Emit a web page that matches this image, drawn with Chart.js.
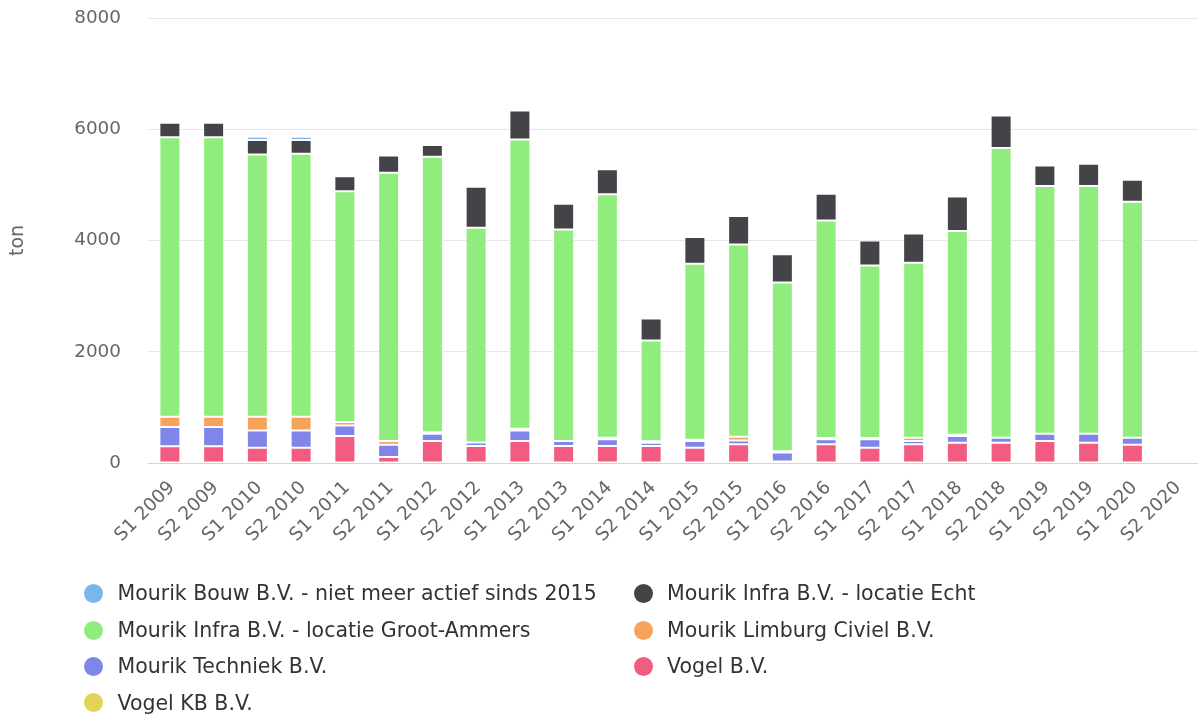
<!DOCTYPE html>
<html>
<head>
<meta charset="utf-8">
<script src="https://cdn.jsdelivr.net/npm/chart.js@4.4.1/dist/chart.umd.min.js"></script>
<style>
  html, body { margin: 0; padding: 0; background: #fff; }
  #wrap { position: relative; width: 1198px; height: 718px; overflow: hidden; }
  #c { position: absolute; left: 0; top: 0; }
  #legend { position: absolute; left: 0; top: 0; width: 1198px; height: 718px; pointer-events: none; }
  .li { position: absolute; font-family: "DejaVu Sans", sans-serif; font-size: 20.5px; color: #333333; white-space: nowrap; line-height: 24px; }
  .dot { position: absolute; width: 19px; height: 19px; border-radius: 50%; }
</style>
</head>
<body>
<div id="wrap">
  <canvas id="c" width="1198" height="718"></canvas>
  <div id="legend"></div>
</div>
<script>
const categories = ['S1 2009','S2 2009','S1 2010','S2 2010','S1 2011','S2 2011','S1 2012','S2 2012','S1 2013','S2 2013','S1 2014','S2 2014','S1 2015','S2 2015','S1 2016','S2 2016','S1 2017','S2 2017','S1 2018','S2 2018','S1 2019','S2 2019','S1 2020','S2 2020'];

const yTicks = [0, 2000, 4000, 6000, 8000];

const seriesNames = [
  'Mourik Bouw B.V. - niet meer actief sinds 2015',
  'Mourik Infra B.V. - locatie Echt',
  'Mourik Infra B.V. - locatie Groot-Ammers',
  'Mourik Limburg Civiel B.V.',
  'Mourik Techniek B.V.',
  'Vogel B.V.',
  'Vogel KB B.V.'
];

const mourikBouw   = [0, 0, 60, 60, 0, 0, 0, 0, 0, 0, 0, 0, 0, 0, 0, 0, 0, 0, 0, 0, 0, 0, 0, null];
const infraEcht    = [260, 260, 260, 245, 270, 310, 210, 735, 520, 460, 450, 395, 485, 510, 510, 480, 450, 525, 620, 580, 370, 400, 395, null];
const infraGroot   = [5025, 5025, 4715, 4730, 4150, 4825, 4950, 3860, 5200, 3805, 4375, 1814, 3160, 3460, 3035, 3910, 3100, 3145, 3660, 5210, 4455, 4455, 4240, null];
const limburg      = [185, 185, 245, 245, 60, 65, 30, 0, 30, 0, 30, 25, 25, 65, 20, 25, 25, 60, 25, 0, 0, 0, 0, null];
const techniek     = [345, 345, 310, 310, 190, 220, 130, 65, 190, 90, 120, 60, 120, 70, 165, 90, 150, 60, 120, 90, 130, 160, 125, null];
const vogelBV      = [300, 300, 275, 275, 485, 110, 395, 305, 395, 305, 305, 305, 275, 335, 25, 335, 275, 335, 365, 365, 395, 365, 330, null];
const vogelKB      = [0, 0, 0, 0, 0, 0, 0, 0, 0, 0, 0, 0, 0, 0, 0, 0, 0, 0, 0, 0, 0, 0, 0, null];

const seriesColors = ['#7cb5ec', '#434348', '#90ed7d', '#f7a35c', '#8085e9', '#f15c80', '#e4d354'];
const seriesData = [mourikBouw, infraEcht, infraGroot, limburg, techniek, vogelBV, vogelKB];

// Stack bottom-to-top: last legend series at the bottom
const datasets = [];
for (let i = seriesNames.length - 1; i >= 0; i--) {
  datasets.push({
    label: seriesNames[i],
    data: seriesData[i],
    backgroundColor: seriesColors[i],
    borderColor: '#ffffff',
    borderWidth: 1,
    borderSkipped: false,
    stack: 's',
    categoryPercentage: 1,
    barPercentage: 0.48
  });
}

const tickFont = { family: 'DejaVu Sans', size: 18.4 };

new Chart(document.getElementById('c'), {
  type: 'bar',
  data: { labels: categories, datasets: datasets },
  options: {
    responsive: false,
    animation: false,
    devicePixelRatio: 1,
    layout: { padding: { left: 0, top: 18, right: 0, bottom: 145 } },
    plugins: { legend: { display: false }, tooltip: { enabled: false } },
    scales: {
      x: {
        stacked: true,
        grid: { display: true, drawOnChartArea: false, drawTicks: false },
        border: { display: true, color: '#ccd6eb', width: 1 },
        ticks: {
          color: '#666666', font: tickFont, autoSkip: false,
          minRotation: 45, maxRotation: 45, padding: 14, labelOffset: 2
        },
        afterFit: (s) => { s.height = 110; s.paddingLeft = 0; s.paddingRight = 0; }
      },
      y: {
        stacked: true,
        min: 0, max: 8000,
        afterBuildTicks: (s) => { s.ticks = yTicks.map(v => ({ value: v })); },
        grid: { color: '#e6e6e6', lineWidth: 1, drawTicks: false },
        border: { display: false },
        ticks: { color: '#666666', font: tickFont, padding: 27, callback: (v) => String(v) },
        title: {
          display: true, text: 'ton', color: '#666666',
          font: { family: 'DejaVu Sans', size: 19 }, padding: { top: 7, bottom: 0 }
        },
        afterFit: (s) => { s.width = 148; s.paddingTop = 0; s.paddingBottom = 0; }
      }
    }
  }
});

// HTML legend in two columns, same order as the series
const legend = document.getElementById('legend');
const colX = [93.5, 643];
const rowY = [593, 630, 666, 702.5];
seriesNames.forEach((name, i) => {
  const col = i % 2, row = Math.floor(i / 2);
  const dot = document.createElement('div');
  dot.className = 'dot';
  dot.style.background = seriesColors[i];
  dot.style.left = (colX[col] - 9.5) + 'px';
  dot.style.top = (rowY[row] - 9.5) + 'px';
  legend.appendChild(dot);
  const t = document.createElement('div');
  t.className = 'li';
  t.textContent = name;
  t.style.left = (colX[col] + 24) + 'px';
  t.style.top = (rowY[row] - 12) + 'px';
  legend.appendChild(t);
});
</script>
</body>
</html>
